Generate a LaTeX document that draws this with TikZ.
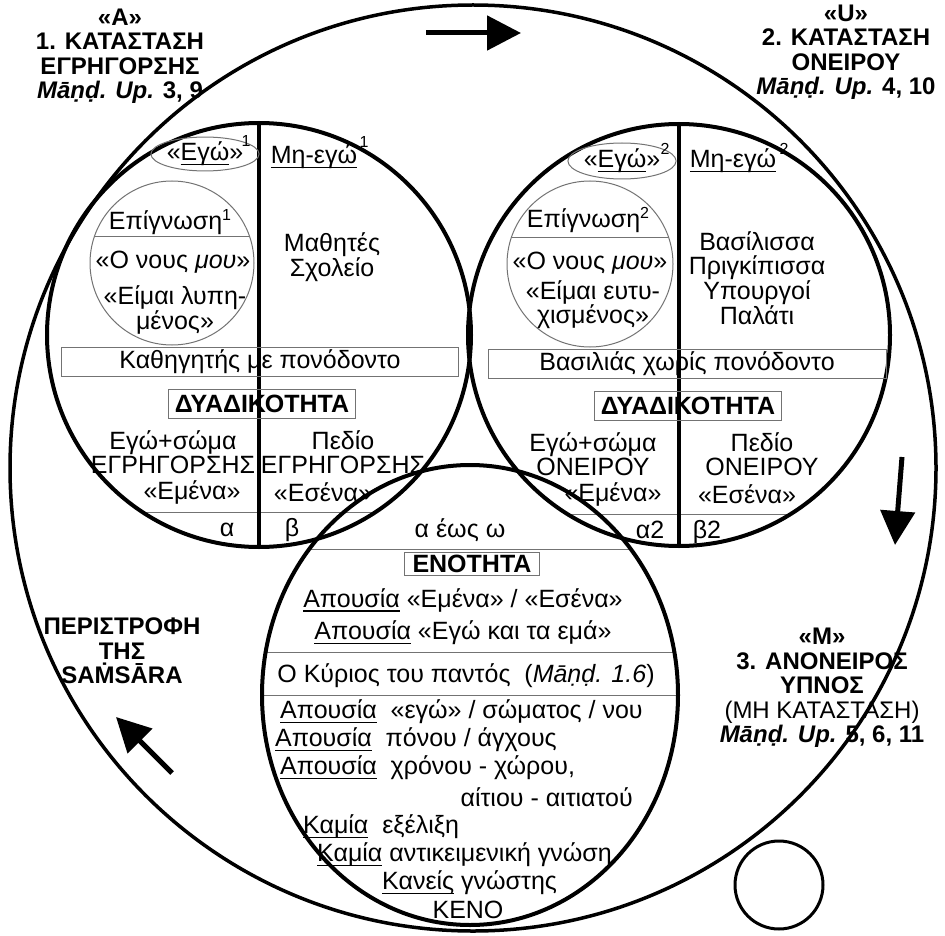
\documentclass[tikz,border=0pt]{standalone}
\usepackage{fontspec}
\setmainfont{Liberation Sans}
\usetikzlibrary{arrows.meta,shapes.geometric}
\tikzstyle{ring}=[circle, draw, line width=4pt, inner sep=0pt, outer sep=0pt]
\tikzstyle{inner}=[circle, draw=black!55, line width=1pt, inner sep=0pt]
\tikzstyle{txt}=[inner sep=0pt, align=center]
\tikzstyle{frame}=[draw=black!55, line width=1pt, inner sep=0pt, minimum height=29pt]
\tikzstyle{chord}=[draw=black!55, line width=1pt]
\tikzstyle{title}=[inner sep=0pt, align=center, font=\fontsize{24}{24.5}\selectfont\bfseries]
\tikzstyle{sup}=[inner sep=0pt, font=\fontsize{16}{16}\selectfont]
\tikzstyle{turn}=[line width=5pt, -{Triangle[length=34pt,width=34pt]}]
\newcommand{\txt}{\node[txt]}
\newcommand{\und}[1]{\setbox0=\hbox{#1}\rlap{\rule[-4.5pt]{\wd0}{1.3pt}}\box0\relax}
\newcommand{\sups}[1]{\raisebox{9pt}{\fontsize{16}{16}\selectfont #1}}

\begin{document}
\begin{tikzpicture}[x=1pt, y=-1pt, font=\fontsize{25}{24}\selectfont]
\useasboundingbox (0,0) rectangle (945,936);

\begin{scope}
\clip (259,335) circle (212pt);
\draw[chord] (0,512) -- (945,512);
\end{scope}
\begin{scope}
\clip (679,335) circle (211pt);
\draw[chord] (0,514) -- (945,514);
\end{scope}
\begin{scope}
\clip (470,695) ellipse (208pt and 230pt);
\draw[chord] (0,549) -- (945,549);
\draw[chord] (0,652) -- (945,652);
\draw[chord] (0,695) -- (945,695);
\end{scope}
\begin{scope}
\clip (172,263) circle (82pt);
\draw[chord] (0,237) -- (945,237);
\end{scope}
\begin{scope}
\clip (590,264) circle (83pt);
\draw[chord] (0,238) -- (945,238);
\end{scope}

\node[ring, minimum size=926pt, line width=3.5pt] (S) at (473,468) {};
\node[ring, minimum size=424pt] (A) at (259,335) {};
\node[ring, minimum size=422pt] (B) at (679,335) {};
\node[ring, ellipse, minimum width=416pt, minimum height=460pt] (C) at (470,695) {};
\node[ring, minimum size=88pt, line width=3pt] (m) at (779,885) {};
\node[inner, minimum size=164pt] (a) at (172,263) {};
\node[inner, minimum size=166pt] (b) at (590,264) {};
\draw[line width=4pt] (A.north) -- (A.south);
\draw[line width=4pt] (B.north) -- (B.south);

\node[title] (tA) at (120,56) {«A»\\1. ΚΑΤΑΣΤΑΣΗ\\ΕΓΡΗΓΟΡΣΗΣ\\\textit{Māṇḍ. Up.} 3, 9};
\node[title] (tU) at (846,52) {«U»\\2. ΚΑΤΑΣΤΑΣΗ\\ΟΝΕΙΡΟΥ\\\textit{Māṇḍ. Up.} 4, 10};
\node[title] (tM) at (822,688) {«M»\\3. ΑΝΟΝΕΙΡΟΣ\\ΥΠΝΟΣ\\\mdseries(ΜΗ ΚΑΤΑΣΤΑΣΗ)\\\textit{Māṇḍ. Up.} 5, 6, 11};
\node[title] (ts) at (122,651) {ΠΕΡΙΣΤΡΟΦΗ\\ΤΗΣ\\SAṀSĀRA};

\node[txt, ellipse, draw=black!55, line width=1pt, minimum width=75pt, minimum height=32pt] (egoA) at (205,154) {«\und{Εγώ}»};
\node[sup] (s1) at (246,141) {1};
\txt (mhA) at (314,157) {\und{Μη-εγώ}};
\node[sup] (s2) at (364,142) {1};
\txt (epA) at (170,222) {Επίγνωση\sups{1}};
\txt (nA) at (173,262) {«Ο νους \textit{μου}»};
\txt (lA) at (175,310) {«Είμαι λυπη-\\μένος»};
\txt (ma) at (332,257) {Μαθητές\\Σχολείο};
\node[txt, frame, minimum width=397pt] (kA) at (260,362) {Καθηγητής με πονόδοντο};
\node[txt, frame, minimum width=187pt] (dA) at (262,404) {\bfseries ΔΥΑΔΙΚΟΤΗΤΑ};
\txt (eA) at (173,452) {Εγώ+σώμα\\ΕΓΡΗΓΟΡΣΗΣ};
\txt (emA) at (192,492) {«Εμένα»};
\txt (pA) at (343,452) {Πεδίο\\ΕΓΡΗΓΟΡΣΗΣ};
\txt (esA) at (323,492) {«Εσένα»};
\node[txt, anchor=base] (alA) at (227,536) {α};
\node[txt, anchor=base] (beA) at (292,536) {β};

\node[txt, ellipse, draw=black!55, line width=1pt, minimum width=72pt, minimum height=36pt] (egoB) at (622,161) {«\und{Εγώ}»};
\node[sup] (s3) at (665,149) {2};
\txt (mhB) at (733,161) {\und{Μη-εγώ}};
\node[sup] (s4) at (784,149) {2};
\txt (epB) at (588,220) {Επίγνωση\sups{2}};
\txt (nB) at (590,263) {«Ο νους \textit{μου}»};
\txt (lB) at (593,305) {«Είμαι ευτυ-\\χισμένος»};
\txt (ba) at (757,278) {Βασίλισσα\\Πριγκίπισσα\\Υπουργοί\\Παλάτι};
\node[txt, frame, minimum width=398pt] (kB) at (687,364) {Βασιλιάς χωρίς πονόδοντο};
\node[txt, frame, minimum width=187pt] (dB) at (688,406) {\bfseries ΔΥΑΔΙΚΟΤΗΤΑ};
\txt (eB) at (593,454) {Εγώ+σώμα\\ΟΝΕΙΡΟΥ};
\txt (emB) at (613,494) {«Εμένα»};
\txt (pB) at (762,454) {Πεδίο\\ΟΝΕΙΡΟΥ};
\txt (esB) at (747,494) {«Εσένα»};
\node[txt, anchor=base] (alB) at (650,538) {α2};
\node[txt, anchor=base] (beB) at (707,538) {β2};

\node[txt, anchor=base] (aw) at (460,537) {α έως ω};
\node[txt, frame, minimum width=135pt, minimum height=23pt] (en) at (472,564) {\bfseries ΕΝΟΤΗΤΑ};
\txt (c1) at (463,600) {\und{Απουσία} «Εμένα» / «Εσένα»};
\txt (c2) at (463,633) {\und{Απουσία} «Εγώ και τα εμά»};
\txt (c3) at (466,676) {Ο Κύριος του παντός \ (\textit{Māṇḍ. 1.6})};
\node[txt, anchor=west] (c4) at (280,712) {\und{Απουσία} \ «εγώ» / σώματος / νου};
\node[txt, anchor=west] (c5) at (275,740) {\und{Απουσία} \ πόνου / άγχους};
\node[txt, anchor=west] (c6) at (280,768) {\und{Απουσία} \ χρόνου - χώρου,};
\node[txt, anchor=east] (c7) at (633,797) {αίτιου - αιτιατού};
\node[txt, anchor=west] (c8) at (303,827) {\und{Καμία} \ εξέλιξη};
\node[txt, anchor=west] (c9) at (317,855) {\und{Καμία} αντικειμενική γνώση};
\node[txt, anchor=west] (c10) at (382,883) {\und{Κανείς} γνώστης};
\txt (c11) at (468,910) {ΚΕΝΟ};

\coordinate (p1) at (426,33);
\coordinate (p2) at (521,33);
\coordinate (p3) at (902,457);
\coordinate (p4) at (895,545);
\coordinate (p5) at (172,773);
\coordinate (p6) at (116,717);
\draw[turn] (p1) -- (p2);
\draw[turn] (p3) -- (p4);
\draw[turn] (p5) -- (p6);
\end{tikzpicture}
\end{document}
